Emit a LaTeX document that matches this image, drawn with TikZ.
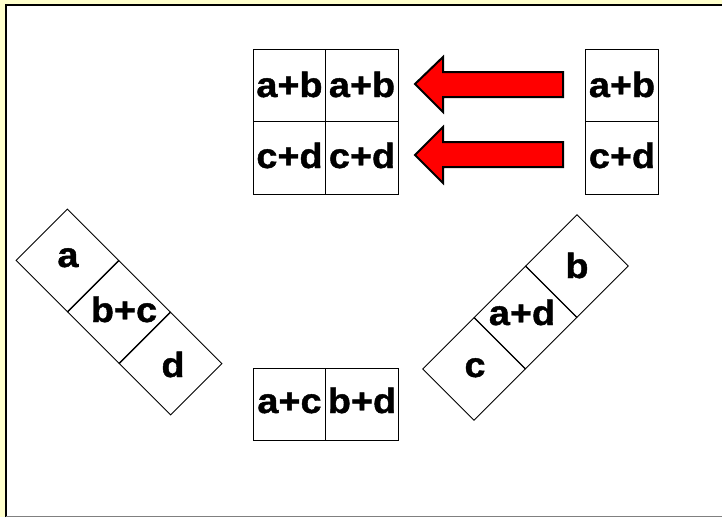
\documentclass[tikz,border=0pt]{standalone}
\usepackage{fontspec}
\setmainfont{Liberation Sans}[FakeStretch=1.08, BoldFeatures={FakeBold=1.2}]
\definecolor{bgyellow}{RGB}{255,255,204}
\definecolor{arrowred}{RGB}{255,0,0}
\tikzset{
  cell/.style={draw=black, line width=1pt, minimum size=72.5pt, inner sep=0pt, outer sep=0pt},
  lbl/.style={anchor=base, inner sep=0pt, font=\fontsize{35}{40}\selectfont\bfseries},
  blockarrow/.style={fill=arrowred, draw=black, line width=2pt, line join=miter}
}
\begin{document}
\begin{tikzpicture}[x=1pt, y=-1pt]
\useasboundingbox (0,0) rectangle (722,517);
% frame
\fill[bgyellow] (0,0) rectangle (722,517);
\fill[white] (5,4) rectangle (722,517);
\draw[black, line width=2pt] (6,517) -- (6,5) -- (722,5);
\draw[gray, line width=1pt] (6,516.5) -- (722,516.5);
% top grid
\node[cell] (t11) at (289.5,85.5) {};
\node[cell] (t12) at (362,85.5) {};
\node[cell] (t21) at (289.5,158) {};
\node[cell] (t22) at (362,158) {};
\node[cell] (r1) at (622,85.5) {};
\node[cell] (r2) at (622,158) {};
\node[lbl] (lt11) at (289.5,97) {a+b};
\node[lbl] (lt12) at (362,97) {a+b};
\node[lbl] (lt21) at (289.5,168) {c+d};
\node[lbl] (lt22) at (362,168) {c+d};
\node[lbl] (lr1) at (622,97) {a+b};
\node[lbl] (lr2) at (622,168) {c+d};
% block arrows
\draw[blockarrow] (415,84) -- (443,57) -- (443,72) -- (563,72) -- (563,97) -- (443,97) -- (443,112) -- cycle;
\draw[blockarrow] (415,155) -- (443,127) -- (443,142) -- (563,142) -- (563,167) -- (443,167) -- (443,183) -- cycle;
% bottom pair
\node[cell] (b1) at (289.5,404.5) {};
\node[cell] (b2) at (362,404.5) {};
\node[lbl] (lb1) at (289.5,413) {a+c};
\node[lbl] (lb2) at (362,413) {b+d};
% left rotated strip
\node[cell, rotate=45] (L1) at (67.4,260.4) {};
\node[cell, rotate=45] (L2) at (119,312) {};
\node[cell, rotate=45] (L3) at (170.6,363.6) {};
\node[lbl] (lL1) at (68,267) {a};
\node[lbl] (lL2) at (124,322) {b+c};
\node[lbl] (lL3) at (173,377) {d};
% right rotated strip
\node[cell, rotate=45] (R1) at (577,266) {};
\node[cell, rotate=45] (R2) at (525.5,317.5) {};
\node[cell, rotate=45] (R3) at (474,369) {};
\node[lbl] (lR1) at (577,278) {b};
\node[lbl] (lR2) at (522,325) {a+d};
\node[lbl] (lR3) at (475,377) {c};
\end{tikzpicture}
\end{document}
